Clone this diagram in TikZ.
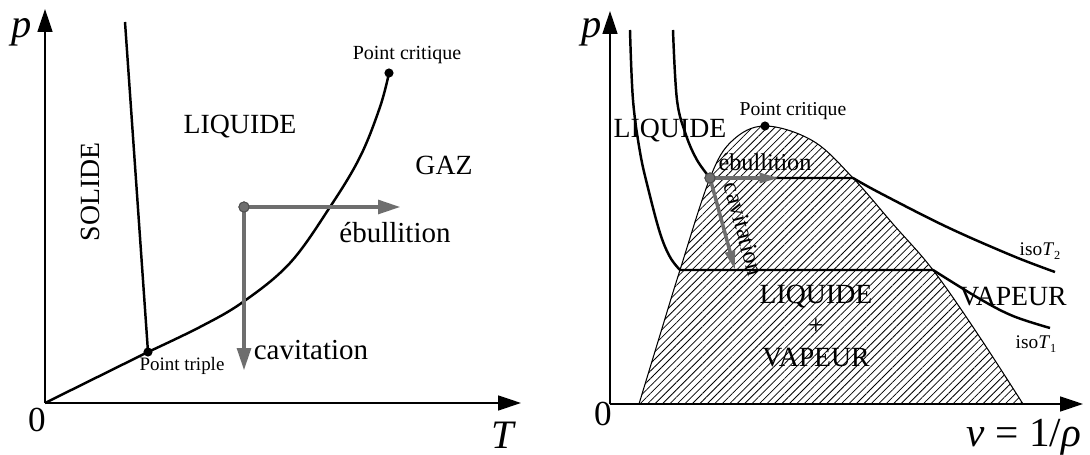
\documentclass[tikz,border=0pt]{standalone}
\usepackage{fontspec}
\setmainfont{Liberation Serif}
\usetikzlibrary{arrows.meta,patterns.meta}
\definecolor{arrgray}{HTML}{6E6E6E}
\begin{document}
\begin{tikzpicture}[x=0.02cm,y=-0.02cm,
  axis/.style={line width=0.7pt,-{Triangle[length=13pt,width=8.5pt]}},
  curve/.style={line width=1.4pt,line join=round},
  grayarrowL/.style={line width=2.7pt,draw=arrgray,-{Triangle[length=13pt,width=7.5pt]}},
  grayarrowR/.style={line width=2pt,draw=arrgray,-{Triangle[length=11pt,width=5.5pt]}},
  dot/.style={circle,fill=black,inner sep=0pt,minimum size=5.2pt},
  graydot/.style={circle,fill=arrgray,draw=black!70,line width=0.5pt,inner sep=0pt,minimum size=5.8pt},
  big/.style={font=\fontsize{15.8}{18}\selectfont},
  mid/.style={font=\fontsize{13.8}{16}\selectfont},
  axlab/.style={font=\fontsize{23}{26}\selectfont\itshape},
  numlab/.style={font=\fontsize{20}{23}\selectfont},
  iso/.style={font=\fontsize{11}{13}\selectfont}
]
\useasboundingbox (0,0) rectangle (1090,455);

% ---------------- Left panel ----------------
\coordinate (O1) at (45,403);
\coordinate (Ytop1) at (45,9);
\coordinate (Xend1) at (521,403);
\draw[axis] (O1) -- (Ytop1);
\draw[axis] (O1) -- (Xend1);
\node[axlab] (p1) at (22,32) {p};
\node[axlab] (T1) at (503,435) {T};
\node[numlab] (z1) at (37,420) {0};

\coordinate (melt) at (125,22);
\node[dot] (tp) at (148,352) {};
\node[dot] (cp1) at (389,73) {};
\draw[curve] (melt) -- (tp.center);
\draw[curve] (O1) -- (tp.center);
\draw[curve] plot[smooth,tension=0.6] coordinates {(148,352) (200,327) (243,302) (290,263) (330,207) (360,157) (380,107) (389,73)};

\node[font=\fontsize{10.8}{12}\selectfont] (tpl) at (182,366) {Point triple};
\node[font=\fontsize{11.4}{13}\selectfont] (cpl1) at (407,55) {Point critique};
\node[big] (liq1) at (240,127) {LIQUIDE};
\node[big] (gaz1) at (444,165) {GAZ};
\node[big,rotate=90] (sol1) at (90,192) {SOLIDE};

\node[graydot] (s1) at (244,207) {};
\coordinate (eb1) at (401,207);
\coordinate (cav1) at (244,371);
\draw[grayarrowL] (s1.center) -- (eb1);
\draw[grayarrowL] (s1.center) -- (cav1);
\node[graydot] at (s1) {};
\node[font=\fontsize{16.5}{19}\selectfont] (ebl1) at (395,233) {ébullition};
\node[font=\fontsize{16.5}{19}\selectfont] (cavl1) at (311,350) {cavitation};

% ---------------- Right panel ----------------
\coordinate (O2) at (610,404);
\coordinate (Ytop2) at (610,11);
\coordinate (Xend2) at (1083,404);

\filldraw[line width=0.6pt,pattern={Lines[angle=45,distance=3pt,line width=0.45pt]}]
  plot[smooth,tension=0.6] coordinates {(639,404) (660,335) (680,270) (710,178) (732,141) (765,126) (813,141) (853,178) (893,224) (933,270) (977,333) (1023,404)} -- cycle;

\draw[axis] (O2) -- (Ytop2);
\draw[axis] (O2) -- (Xend2);
\node[axlab] (p2) at (592,32) {p};
\node[numlab] (z2) at (603,414) {0};
\node[font=\fontsize{23.5}{27}\selectfont,anchor=base] (vl) at (1024,447) {\itshape v\/\upshape{} = 1/\itshape ρ};

% isotherm T2
\coordinate (a2) at (710,178);
\coordinate (b2) at (853,178);
\draw[curve] plot[smooth,tension=0.6] coordinates {(673,30) (677,100) (686,135) (697,160) (710,178)}
  -- (b2) -- plot[smooth,tension=0.6] coordinates {(853,178) (880,193) (947,227) (1013,256) (1055,272)};
% isotherm T1
\coordinate (a1) at (680,270);
\coordinate (b1) at (933,270);
\draw[curve] plot[smooth,tension=0.6] coordinates {(630,30) (633,100) (640,152) (648,188) (660,233) (670,257) (680,270)}
  -- (b1) -- plot[smooth,tension=0.6] coordinates {(933,270) (980,299) (1013,316) (1050,328)};

\node[dot] (cp2) at (765,126) {};
\node[font=\fontsize{11.2}{13}\selectfont] (cpl2) at (793,111) {Point critique};

\node[graydot] (s2) at (a2) {};
\coordinate (eb2) at (779,178);
\coordinate (cav2) at (735,270);
\draw[grayarrowR] (s2.center) -- (eb2);
\draw[grayarrowR] (s2.center) -- (cav2);
\node[graydot] at (s2) {};
\node[mid] (ebl2) at (765,162) {ébullition};
\node[mid,rotate=-75] (cavl2) at (744,229) {cavitation};

\node[big] (liq2) at (670,131) {LIQUIDE};
\node[big] (vap2) at (1013,297) {VAPEUR};
\node[big] (lm) at (816,297) {LIQUIDE};
\node[big] (pl) at (816,327) {+};
\node[big] (vm) at (816,358) {VAPEUR};
\node[iso] (i2) at (1040,251) {iso\textit{T}\raisebox{-0.5ex}{\fontsize{7}{8}\selectfont 2}};
\node[iso] (i1) at (1036,344) {iso\textit{T}\raisebox{-0.5ex}{\fontsize{7}{8}\selectfont 1}};
\end{tikzpicture}
\end{document}
